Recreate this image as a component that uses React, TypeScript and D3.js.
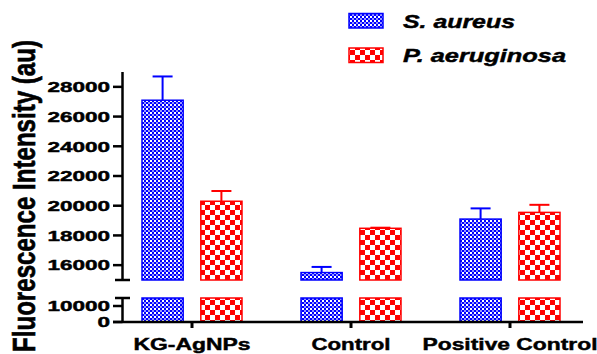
import React from "react";
import * as d3 from "d3";

const categories = ["KG-AgNPs", "Control", "Positive Control"];
const seriesNames = ["S. aureus", "P. aeruginosa"];
const aureusValues = [27100, 15500, 19100];
const aureusErrors = [1600, 380, 720];
const aeruginosaValues = [20300, 18480, 19550];
const aeruginosaErrors = [690, 40, 510];
const upperTicks = [16000, 18000, 20000, 22000, 24000, 26000, 28000];
const lowerTicks = [0, 10000];

const W = 597;
const H = 354;
const FONT = "'Liberation Sans', Arial, sans-serif";

const colors = ["#0000ff", "#ff0000"];
const patternIds = ["patBlue", "patRed"];
const labelWidths: Record<string, number> = {
  "KG-AgNPs": 117,
  Control: 79,
  "Positive Control": 175,
};

export default function App() {
  const yUpper = d3.scaleLinear().domain([15000, 29000]).range([280, 72]);
  const yLower = d3.scaleLinear().domain([0, 15000]).range([322, 298]);
  const x = d3.scaleBand().domain(categories).range([112.5, 589.5]).padding(0);
  const xSub = d3.scaleBand().domain(seriesNames).range([-50, 50]).paddingInner(0.3);
  const axisX = 122.5;
  const breakValue = 15000;

  const series = [
    { name: seriesNames[0], values: aureusValues, errors: aureusErrors },
    { name: seriesNames[1], values: aeruginosaValues, errors: aeruginosaErrors },
  ];

  const textStroke = { stroke: "#000", strokeWidth: 0.45 };

  return (
    <svg width={W} height={H} style={{ position: "absolute", left: 0, top: 0 }}>
      <defs>
        <pattern id="patBlue" patternUnits="userSpaceOnUse" width={4} height={4}>
          <rect width={4} height={4} fill="#ffffff" />
          <rect x={0} y={0} width={2} height={2} fill="#0000ff" />
          <rect x={2} y={2} width={2} height={2} fill="#0000ff" />
          <rect x={0} y={2} width={2} height={2} fill="#3030ff" opacity={0.5} />
        </pattern>
        <pattern id="patRed" patternUnits="userSpaceOnUse" width={10} height={10}>
          <rect width={10} height={10} fill="#ffffff" />
          <rect x={0} y={0} width={5} height={5} fill="#ff0000" />
          <rect x={5} y={5} width={5} height={5} fill="#ff0000" />
        </pattern>
      </defs>
      <rect width={W} height={H} fill="#ffffff" />

      {/* bars */}
      {series.map((s, si) =>
        categories.map((c, ci) => {
          const cx = (x(c) as number) + x.bandwidth() / 2;
          const bx = cx + (xSub(s.name) as number);
          const bw = xSub.bandwidth();
          const v = s.values[ci];
          const e = s.errors[ci];
          const topU = yUpper(v);
          const capY = yUpper(v + e);
          return (
            <g key={`${si}-${ci}`}>
              <line x1={bx + bw / 2} x2={bx + bw / 2} y1={topU} y2={capY} stroke={colors[si]} strokeWidth={2} />
              <line x1={bx + bw / 2 - 10} x2={bx + bw / 2 + 10} y1={capY} y2={capY} stroke={colors[si]} strokeWidth={2} />
              <rect x={bx} y={topU} width={bw} height={yUpper(breakValue) - topU} fill={`url(#${patternIds[si]})`} stroke={colors[si]} strokeWidth={1.5} />
              <rect x={bx} y={yLower(breakValue)} width={bw} height={yLower(0) - yLower(breakValue)} fill={`url(#${patternIds[si]})`} stroke={colors[si]} strokeWidth={1.5} />
            </g>
          );
        })
      )}

      {/* y axis upper */}
      <line x1={axisX} x2={axisX} y1={yUpper(29000)} y2={yUpper(15000)} stroke="#000" strokeWidth={2.5} />
      <line x1={axisX - 7.5} x2={axisX + 7.5} y1={yUpper(15000)} y2={yUpper(15000)} stroke="#000" strokeWidth={2.5} />
      {upperTicks.map((t) => (
        <g key={`u${t}`}>
          <line x1={113} x2={axisX} y1={yUpper(t)} y2={yUpper(t)} stroke="#000" strokeWidth={2.5} />
          <text x={110} y={yUpper(t) + 5.3} textAnchor="end" fontFamily={FONT} fontWeight="bold" fontSize={15} textLength={62.5} lengthAdjust="spacingAndGlyphs" {...textStroke}>
            {t}
          </text>
        </g>
      ))}

      {/* y axis lower */}
      <line x1={axisX} x2={axisX} y1={yLower(15000)} y2={yLower(0)} stroke="#000" strokeWidth={2.5} />
      <line x1={axisX - 7.5} x2={axisX + 7.5} y1={yLower(15000)} y2={yLower(15000)} stroke="#000" strokeWidth={2.5} />
      {lowerTicks.map((t) => (
        <g key={`l${t}`}>
          <line x1={113} x2={axisX} y1={yLower(t)} y2={yLower(t)} stroke="#000" strokeWidth={2.5} />
          <text x={110} y={yLower(t) + 5.3} textAnchor="end" fontFamily={FONT} fontWeight="bold" fontSize={15} textLength={String(t).length * 12.5} lengthAdjust="spacingAndGlyphs" {...textStroke}>
            {t}
          </text>
        </g>
      ))}

      {/* x axis */}
      <line x1={113} x2={583} y1={yLower(0)} y2={yLower(0)} stroke="#000" strokeWidth={2.5} />
      {categories.map((c) => {
        const cx = (x(c) as number) + x.bandwidth() / 2;
        return (
          <g key={c}>
            <line x1={cx} x2={cx} y1={yLower(0)} y2={yLower(0) + 6} stroke="#000" strokeWidth={3} />
            <text x={cx} y={350} textAnchor="middle" fontFamily={FONT} fontWeight="bold" fontSize={17} textLength={labelWidths[c]} lengthAdjust="spacingAndGlyphs" {...textStroke}>
              {c}
            </text>
          </g>
        );
      })}

      {/* y label */}
      <g transform="translate(35,196) scale(1.33,1) rotate(-90)">
        <text x={0} y={0} textAnchor="middle" fontFamily={FONT} fontWeight="bold" fontSize={24} textLength={312} lengthAdjust="spacingAndGlyphs" stroke="#000" strokeWidth={0.5}>
          Fluorescence Intensity (au)
        </text>
      </g>

      {/* legend */}
      {seriesNames.map((n, i) => (
        <g key={n}>
          <rect x={349} y={i === 0 ? 13.5 : 48} width={34} height={14.5} fill={`url(#${patternIds[i]})`} stroke={colors[i]} strokeWidth={1.5} />
          <text x={403} y={i === 0 ? 28 : 62} fontFamily={FONT} fontWeight="bold" fontStyle="italic" fontSize={19} textLength={i === 0 ? 112 : 163} lengthAdjust="spacingAndGlyphs" {...textStroke}>
            {n}
          </text>
        </g>
      ))}
    </svg>
  );
}
